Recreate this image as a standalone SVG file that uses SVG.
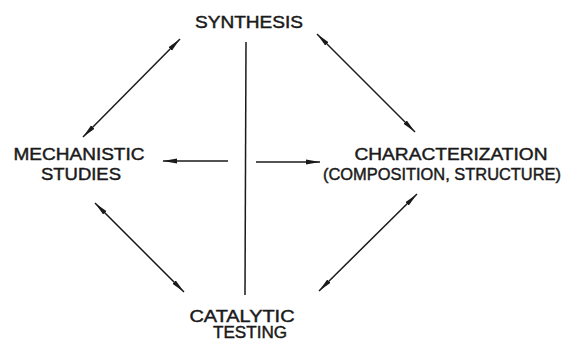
<svg xmlns="http://www.w3.org/2000/svg" width="567" height="341" viewBox="0 0 567 341">
<style>
text{font-family:"Liberation Sans",Arial,sans-serif;font-size:17px;fill:#1a1a1a;stroke:#1a1a1a;stroke-width:0.45;text-anchor:middle}
.c line{stroke:#1a1a1a;stroke-width:1.5;fill:none}
</style>
<defs>
<marker id="ah" viewBox="0 0 14 6" refX="14" refY="3" markerWidth="14" markerHeight="6" markerUnits="userSpaceOnUse" orient="auto-start-reverse">
<path d="M0,0.6 L14,3 L0,5.4 Z" fill="#1a1a1a"/>
</marker>
</defs>
<rect width="567" height="341" fill="#fff"/>
<g id="synthesis"><text x="249" y="28" textLength="108" lengthAdjust="spacingAndGlyphs">SYNTHESIS</text></g>
<g id="mechanistic"><text x="79" y="160" textLength="131" lengthAdjust="spacingAndGlyphs">MECHANISTIC</text><text x="81" y="180" textLength="80" lengthAdjust="spacingAndGlyphs">STUDIES</text></g>
<g id="characterization"><text x="451" y="160" textLength="193" lengthAdjust="spacingAndGlyphs">CHARACTERIZATION</text><text x="442" y="180" style="font-size:16.5px" textLength="238" lengthAdjust="spacingAndGlyphs">(COMPOSITION, STRUCTURE)</text></g>
<g id="catalytic"><text x="242" y="322" textLength="105" lengthAdjust="spacingAndGlyphs">CATALYTIC</text><text x="250" y="338" textLength="74" lengthAdjust="spacingAndGlyphs">TESTING</text></g>
<g id="connectors" class="c">
<line x1="180" y1="39" x2="83" y2="137" marker-start="url(#ah)" marker-end="url(#ah)"/>
<line x1="317" y1="34" x2="415" y2="132" marker-start="url(#ah)" marker-end="url(#ah)"/>
<line x1="95" y1="203" x2="184" y2="292" marker-start="url(#ah)" marker-end="url(#ah)"/>
<line x1="417" y1="194" x2="319" y2="291" marker-start="url(#ah)" marker-end="url(#ah)"/>
<line x1="246" y1="42" x2="245" y2="295"/>
<line x1="228" y1="161" x2="163" y2="161" marker-end="url(#ah)"/>
<line x1="256" y1="162" x2="320" y2="162" marker-end="url(#ah)"/>
</g>
</svg>
